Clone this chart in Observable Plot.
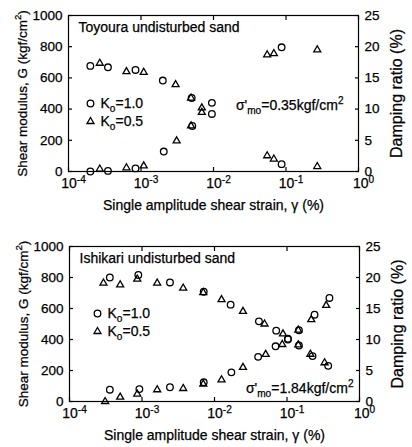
<!DOCTYPE html>
<html><head><meta charset="utf-8">
<script src="https://cdn.jsdelivr.net/npm/d3@7"></script>
<script src="https://cdn.jsdelivr.net/npm/@observablehq/plot@0.6"></script>
<style>
html,body{margin:0;padding:0;background:#fff;}
#chart svg{display:block;}
#chart svg text{stroke:#000;stroke-width:0.25px;}
</style></head><body><div id="chart"></div>
<script>
// ---------- axes / labels ----------
const strainTicks = [1e-4, 1e-3, 1e-2, 1e-1, 1];
const modulusTicks = [0, 200, 400, 600, 800, 1000];
const dampingTicks = [0, 5, 10, 15, 20, 25];
const seriesNames = ["K_o=1.0", "K_o=0.5"];
const xLabel = "Single amplitude shear strain, γ (%)";
const yLabelLeft = "Shear modulus, G (kgf/cm^2)";
const yLabelRight = "Damping ratio (%)";
const titles = ["Toyoura undisturbed sand", "Ishikari undisturbed sand"];
const sigmaLabels = ["σ'_{mo}=0.35kgf/cm^2", "σ'_{mo}=1.84kgf/cm^2"];

// ---------- Toyoura (top) ----------
const toyK10StrainG = [2.0e-4, 3.5e-4, 8.4e-4, 2.0e-3, 5.0e-3, 9.5e-3, 0.087];
const toyK10G       = [677, 668, 651, 583, 471, 369, 47];
const toyK10StrainD = [2.0e-4, 3.5e-4, 8.4e-4, 2.06e-3, 5.1e-3, 9.5e-3, 0.087];
const toyK10D       = [0.0, 0.1, 0.5, 3.2, 7.3, 11.0, 19.9];
const toyK05StrainG = [2.7e-4, 6.3e-4, 1.09e-3, 3.0e-3, 4.9e-3, 6.9e-3, 0.055, 0.068, 0.27];
const toyK05G       = [694, 640, 636, 557, 471, 379, 101, 80, 32];
const toyK05StrainD = [2.7e-4, 6.3e-4, 1.09e-3, 3.1e-3, 4.9e-3, 6.9e-3, 0.055, 0.068, 0.27];
const toyK05D       = [0.4, 0.6, 0.9, 4.9, 7.3, 10.2, 18.7, 18.9, 19.5];

// ---------- Ishikari (bottom) ----------
const ishK10StrainG = [3.6e-4, 8.9e-4, 2.43e-3, 7.1e-3, 0.0167, 0.041, 0.071, 0.103, 0.146, 0.225, 0.37];
const ishK10G       = [800, 816, 768, 708, 625, 517, 457, 405, 361, 293, 230];
const ishK10StrainD = [3.6e-4, 9.2e-4, 2.43e-3, 7.1e-3, 0.0171, 0.040, 0.0696, 0.103, 0.146, 0.24, 0.385];
const ishK10D       = [1.9, 2.0, 2.3, 3.1, 4.7, 7.2, 8.9, 10.0, 11.5, 14.0, 16.7];
const ishK05StrainG = [2.94e-4, 5.0e-4, 8.6e-4, 1.62e-3, 3.7e-3, 7.0e-3, 0.0125, 0.0247, 0.049, 0.088, 0.143, 0.21, 0.33];
const ishK05G       = [764, 753, 790, 764, 732, 703, 657, 581, 500, 436, 365, 305, 250];
const ishK05StrainD = [3.1e-4, 5.0e-4, 8.6e-4, 1.62e-3, 3.7e-3, 7.0e-3, 0.0125, 0.0247, 0.0508, 0.086, 0.143, 0.216, 0.347];
const ishK05D       = [0.0, 0.7, 1.2, 1.9, 2.1, 2.8, 3.5, 5.5, 7.6, 9.2, 11.5, 13.2, 15.5];

// damping (0–25 %) drawn against the modulus scale (0–1000)
const DAMP_FACTOR = 1000 / 25;

function buildRows(sG, G, sD, D, series) {
  return [
    ...sG.map((s, i) => ({strain: s, y: G[i], series})),
    ...sD.map((s, i) => ({strain: s, y: D[i] * DAMP_FACTOR, series}))
  ];
}

const toyRows = [
  ...buildRows(toyK10StrainG, toyK10G, toyK10StrainD, toyK10D, seriesNames[0]),
  ...buildRows(toyK05StrainG, toyK05G, toyK05StrainD, toyK05D, seriesNames[1])
];
const ishRows = [
  ...buildRows(ishK10StrainG, ishK10G, ishK10StrainD, ishK10D, seriesNames[0]),
  ...buildRows(ishK05StrainG, ishK05G, ishK05StrainD, ishK05D, seriesNames[1])
];

const FONT = "'Liberation Sans', Arial, Helvetica, sans-serif";
const CIRCLE_R = 3.3, TRI_R = 2.6;

function panel(o) {
  const rows = o.rows;
  return Plot.plot({
    width: 412, height: o.height,
    marginTop: o.mt, marginBottom: o.mb, marginLeft: o.ml, marginRight: o.mr,
    style: {fontFamily: FONT, fontSize: "13.5px", color: "black", background: "white", overflow: "visible"},
    x: {type: "log", domain: [1e-4, 1]},
    y: {domain: [0, 1000]},
    marks: [
      Plot.frame({stroke: "black", strokeWidth: 1.2}),
      // bottom ticks (inward) and labels
      Plot.axisX(strainTicks, {anchor: "bottom", tickSize: -4, strokeWidth: 1.2, tickFormat: () => "", label: null}),
      Plot.axisX(strainTicks, {anchor: "bottom", tickSize: 0, tickPadding: 7, dx: 5,
        tickFormat: d => "10^" + Math.round(Math.log10(d)),
        label: xLabel, labelAnchor: "center", labelOffset: 38, labelArrow: "none", fontSize: 14}),
      Plot.axisX(strainTicks, {anchor: "top", tickSize: -4, strokeWidth: 1.2, tickFormat: () => "", label: null}),
      Plot.axisY(modulusTicks, {anchor: "left", tickSize: -4, tickPadding: 10, strokeWidth: 1.2,
        tickFormat: d => String(d),
        label: yLabelLeft, labelAnchor: "center", labelOffset: 51, labelArrow: "none"}),
      Plot.axisY(dampingTicks.map(d => d * DAMP_FACTOR), {anchor: "right", tickSize: -4, tickPadding: 10, strokeWidth: 1.2,
        tickFormat: d => String(d / DAMP_FACTOR),
        label: null}),
      Plot.axisY(dampingTicks.map(d => d * DAMP_FACTOR), {anchor: "right", tickSize: 0, tickFormat: () => "", strokeWidth: 0,
        label: yLabelRight, labelAnchor: "center", labelOffset: 43, labelArrow: "none", fontSize: 16}),
      Plot.dot(rows.filter(d => d.series === seriesNames[0]),
        {x: "strain", y: "y", symbol: "circle", r: CIRCLE_R, stroke: "black", fill: "none", strokeWidth: 1.3}),
      Plot.dot(rows.filter(d => d.series === seriesNames[1]),
        {x: "strain", y: "y", symbol: "triangle", r: TRI_R, stroke: "black", fill: "none", strokeWidth: 1.3}),
      // title
      Plot.text([o.title], {frameAnchor: "top-left", dx: 10, dy: 12, text: d => d, textAnchor: "start", lineAnchor: "middle", fontSize: 14}),
      // legend
      Plot.dot([seriesNames[0]], {frameAnchor: "top-left", dx: o.lgx, dy: o.lgy, symbol: "circle", r: CIRCLE_R, stroke: "black", fill: "none", strokeWidth: 1.3}),
      Plot.dot([seriesNames[1]], {frameAnchor: "top-left", dx: o.lgx, dy: o.lgy + 18, symbol: "triangle", r: TRI_R, stroke: "black", fill: "none", strokeWidth: 1.3}),
      Plot.text([seriesNames[0]], {frameAnchor: "top-left", dx: o.lgx + 10, dy: o.lgy, text: d => d, textAnchor: "start", lineAnchor: "middle", fontSize: 14}),
      Plot.text([seriesNames[1]], {frameAnchor: "top-left", dx: o.lgx + 10, dy: o.lgy + 18, text: d => d, textAnchor: "start", lineAnchor: "middle", fontSize: 14}),
      // sigma annotation
      Plot.text([o.sigma], {frameAnchor: o.sAnchor, dx: o.sdx, dy: o.sdy, text: d => d, textAnchor: "end", lineAnchor: "middle", fontSize: 14})
    ]
  });
}

const SVGNS = "http://www.w3.org/2000/svg";
function richify(svg) {
  const texts = [...svg.querySelectorAll("text")];
  for (const t of texts) {
    const targets = t.querySelector("tspan") ? [...t.querySelectorAll("tspan")] : [t];
    for (const el of targets) {
      const s = el.textContent;
      if (!/[\^_]/.test(s)) continue;
      const fs = parseFloat(getComputedStyle(el).fontSize) || 14;
      const parts = s.split(/(\^\{[^}]*\}|_\{[^}]*\}|\^-?[^\s{}]|_[^\s{}])/).filter(p => p !== "");
      el.textContent = "";
      let shift = 0;
      for (const p of parts) {
        const ts = document.createElementNS(SVGNS, "tspan");
        let target = 0, txt = p, small = false;
        if (p[0] === "^") { target = -0.42 * fs; txt = p.slice(1).replace(/[{}]/g, ""); small = true; }
        else if (p[0] === "_") { target = 0.28 * fs; txt = p.slice(1).replace(/[{}]/g, ""); small = true; }
        ts.setAttribute("dy", (target - shift).toFixed(2));
        shift = target;
        if (small) ts.setAttribute("font-size", (0.72 * fs).toFixed(2));
        ts.textContent = txt;
        el.appendChild(ts);
      }
    }
  }
}

const topPanel = panel({rows: toyRows, height: 222, mt: 15, mb: 51, ml: 68, mr: 54,
  title: titles[0], sigma: sigmaLabels[0], lgx: 22, lgy: 88,
  sAnchor: "top-right", sdx: -15, sdy: 90});
const bottomPanel = panel({rows: ishRows, height: 225, mt: 24, mb: 46, ml: 69, mr: 53,
  title: titles[1], sigma: sigmaLabels[1], lgx: 28, lgy: 67,
  sAnchor: "bottom-right", sdx: -6, sdy: -13});

const host = document.getElementById("chart");
host.appendChild(topPanel);
host.appendChild(bottomPanel);
richify(topPanel);
richify(bottomPanel);
</script>
</body></html>
